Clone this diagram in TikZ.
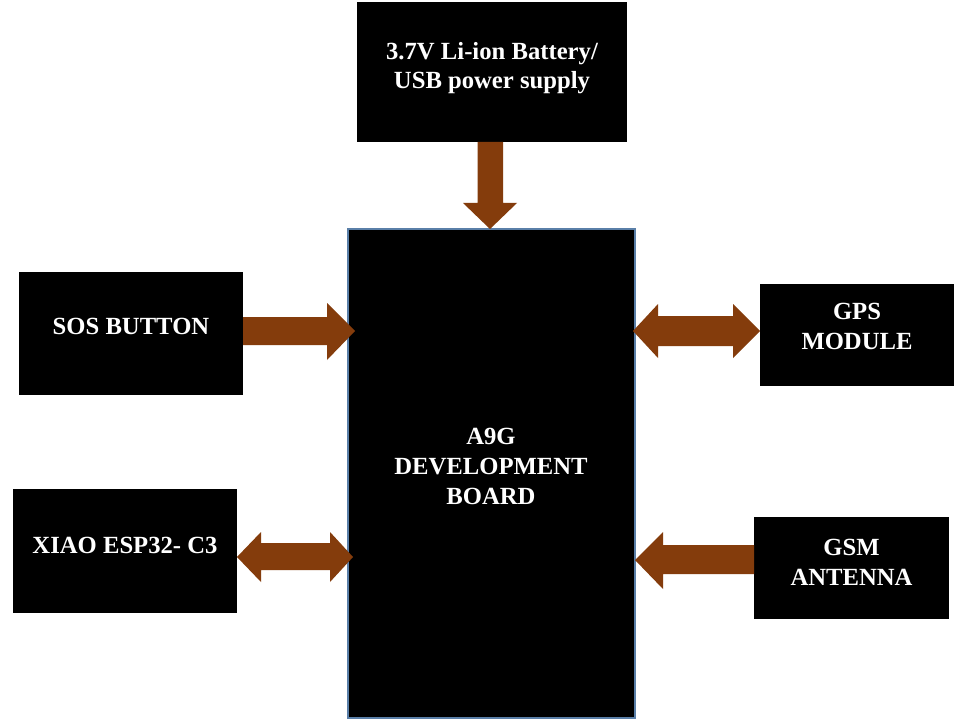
\documentclass[tikz,border=0pt]{standalone}
\usepackage{fontspec}
\setmainfont{Liberation Serif}
\usetikzlibrary{fit}
\definecolor{arrowbrown}{HTML}{843C0C}
\definecolor{edgeblue}{HTML}{5A7FA8}
\begin{document}
\begin{tikzpicture}[x=0.75pt,y=-0.75pt,
  blk/.style={fill=black, draw=none, inner sep=0pt},
  lbl/.style={text=white, font=\fontsize{18.5}{22.5}\selectfont\bfseries, align=center, inner sep=0pt},
  arr/.style={fill=arrowbrown, draw=none}]
\useasboundingbox[fill=white] (0,0) rectangle (966,720);

\node[blk, fit={(357,2) (627,142)}] (bat) {};
\node[lbl, font=\fontsize{18.5}{22}\selectfont\bfseries] (battxt) at (492,68) {3.7V Li-ion Battery/\\USB power supply};
\node[blk, draw=edgeblue, line width=1pt, fit={(348,229) (635,718)}] (a9g) {};
\node[lbl] (a9gtxt) at (491,466) {A9G\\DEVELOPMENT\\BOARD};
\node[blk, fit={(19,272) (243,395)}] (sos) {};
\node[lbl] (sostxt) at (131,326.5) {SOS BUTTON};
\node[blk, fit={(13,489) (237,613)}] (xiao) {};
\node[lbl] (xiaotxt) at (125,545) {XIAO ESP32- C3};
\node[blk, fit={(760,284) (954,386)}] (gps) {};
\node[lbl] (gpstxt) at (857,326) {GPS\\MODULE};
\node[blk, fit={(754,517) (949,619)}] (gsm) {};
\node[lbl] (gsmtxt) at (851.5,562) {GSM\\ANTENNA};

% battery -> board
\fill[arr] (477.5,142) -- (503,142) -- (503,203) -- (517,203) -- (490,229)
  -- (463,203) -- (477.5,203) -- cycle;
% SOS -> board
\fill[arr] (243,317) -- (327,317) -- (327,303) -- (355,331) -- (327,360)
  -- (327,345) -- (243,345) -- cycle;
% board <-> GPS
\fill[arr] (633,331) -- (658,304) -- (658,316) -- (733,316) -- (733,304)
  -- (760,331) -- (733,358) -- (733,346) -- (658,346) -- (658,358) -- cycle;
% GSM -> board
\fill[arr] (754,545) -- (663,545) -- (663,532) -- (635,560) -- (663,589)
  -- (663,574) -- (754,574) -- cycle;
% XIAO <-> board
\fill[arr] (237,557) -- (261,532) -- (261,543) -- (330,543) -- (330,532)
  -- (353,557) -- (330,582) -- (330,570) -- (261,570) -- (261,582) -- cycle;
\end{tikzpicture}
\end{document}
